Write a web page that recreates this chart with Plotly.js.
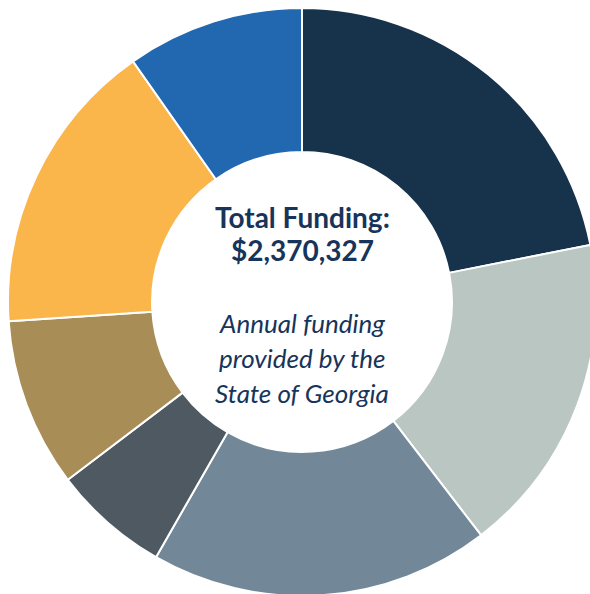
<!DOCTYPE html>
<html>
<head>
<meta charset="utf-8">
<script src="https://cdn.plot.ly/plotly-3.0.1.min.js"></script>
<style>
html, body { margin: 0; padding: 0; overflow: hidden; background: #fff; }
#chart { width: 604px; height: 604px; }
</style>
</head>
<body>
<div id="chart"></div>
<script>
// Slice shares (percent of total), clockwise from 12 o'clock
const categories = ["Segment 1", "Segment 2", "Segment 3", "Segment 4", "Segment 5", "Segment 6", "Segment 7"];
const shares = [21.9, 17.7, 18.7, 6.4, 9.3, 16.3, 9.75];
const colors = ["#17324b", "#b9c6c2", "#728899", "#4f5961", "#a98d57", "#fab54b", "#2168b1"];
const titleLines = ["Total Funding:", "$2,370,327"];
const noteLines = ["Annual funding", "provided by the", "State of Georgia"];

const textColor = "#17345a";
const trace = {
  type: "pie",
  labels: categories,
  values: shares,
  hole: 0.51,
  sort: false,
  direction: "clockwise",
  rotation: 0,
  textinfo: "none",
  hoverinfo: "none",
  marker: { colors: colors, line: { color: "#ffffff", width: 2 } },
  showlegend: false
};

const titleY = [0.6446, 0.5884];
const noteY = [0.4643, 0.4048, 0.3452];
const annotations = [];
titleLines.forEach((t, i) => annotations.push({
  text: "<b>" + t + "</b>", x: 0.5, y: titleY[i], xref: "paper", yref: "paper",
  showarrow: false, xanchor: "center", yanchor: "middle",
  font: { family: "Lato, sans-serif", size: 28, color: textColor }
}));
noteLines.forEach((t, i) => annotations.push({
  text: "<i>" + t + "</i>", x: 0.5, y: noteY[i], xref: "paper", yref: "paper",
  showarrow: false, xanchor: "center", yanchor: "middle",
  font: { family: "Lato, sans-serif", size: 26, color: textColor }
}));

const layout = {
  width: 604, height: 604,
  margin: { l: 8, r: 8, t: 8, b: 8 },
  paper_bgcolor: "#ffffff",
  annotations: annotations
};
Plotly.newPlot("chart", [trace], layout, { displayModeBar: false, staticPlot: true });
</script>
</body>
</html>
